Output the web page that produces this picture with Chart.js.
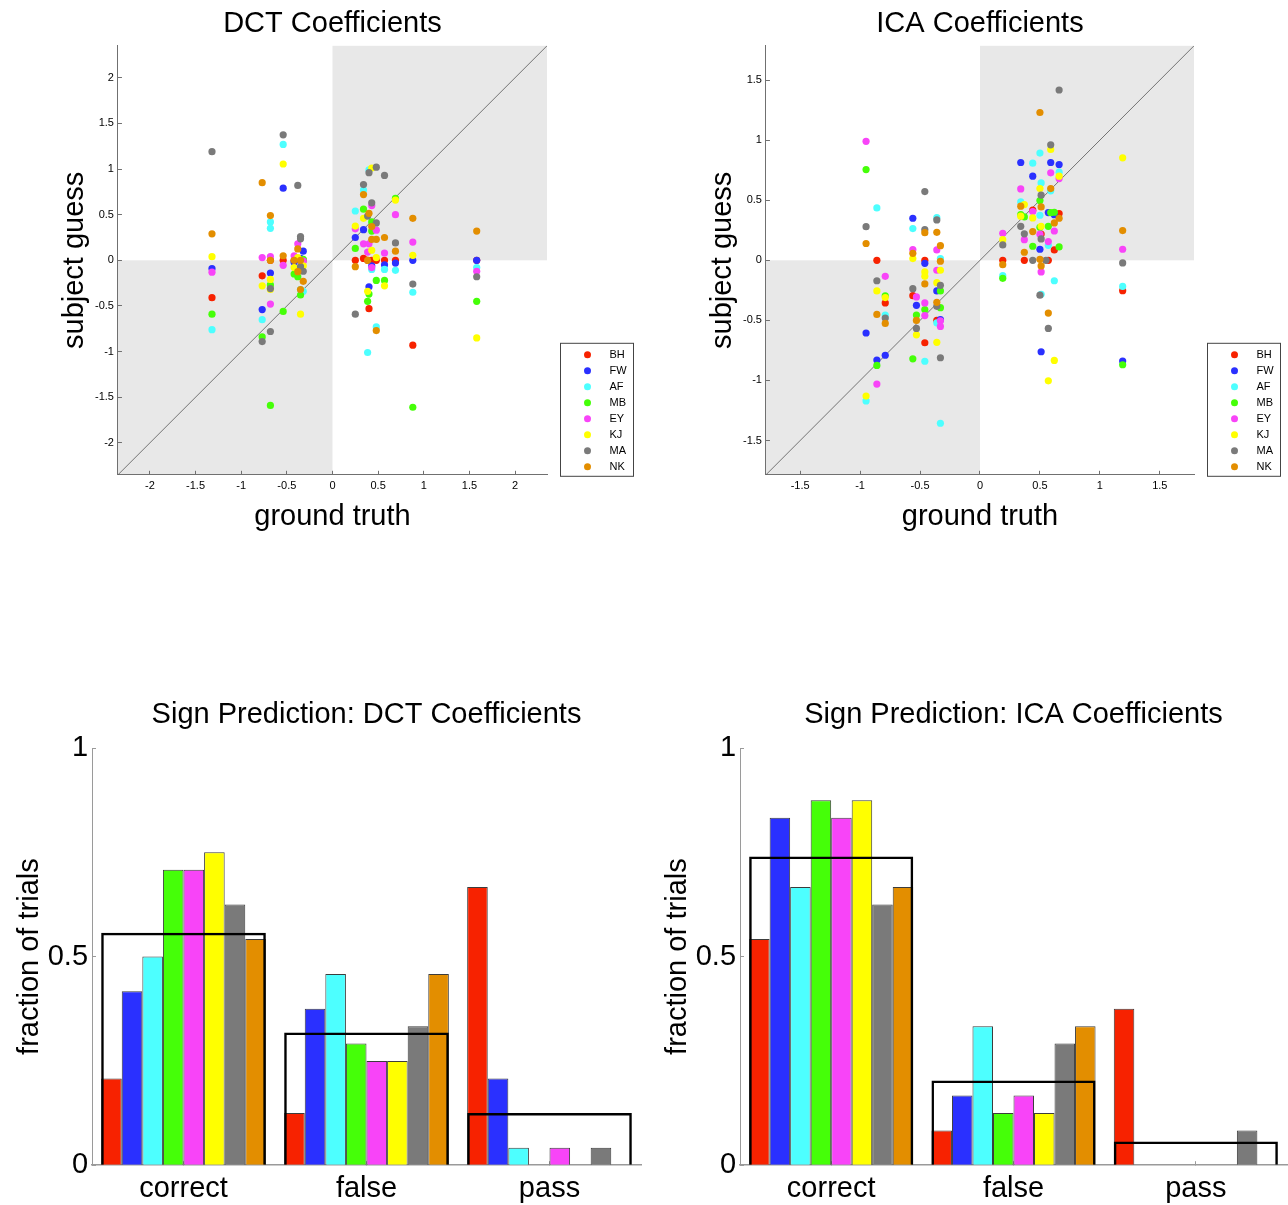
<!DOCTYPE html>
<html>
<head>
<meta charset="utf-8">
<script src="https://cdn.jsdelivr.net/npm/chart.js@4.4.1/dist/chart.umd.min.js"></script>
<style>
  html, body { margin: 0; padding: 0; background: #fff; overflow: hidden; }
  canvas { position: absolute; }
</style>
</head>
<body>
<canvas id="dctScatter" width="644" height="560" style="left:0;top:0"></canvas>
<canvas id="icaScatter" width="640" height="560" style="left:648px;top:0"></canvas>
<canvas id="dctBar" width="648" height="526" style="left:0;top:690px"></canvas>
<canvas id="icaBar" width="640" height="526" style="left:648px;top:690px"></canvas>
<script>
// subjects and colours
var subjects = ['BH', 'FW', 'AF', 'MB', 'EY', 'KJ', 'MA', 'NK'];
var colors = ['#f72200', '#2a30ff', '#4dffff', '#45ff08', '#f844f8', '#ffff00', '#7a7a7a', '#e38e00'];
var groups = ['correct', 'false', 'pass'];

// DCT scatter: [ground truth, subject guess]
var dctBH = [[-1.32,-0.41],[-0.77,-0.17],[-0.68,0],[-0.54,0],[-0.42,0],[-0.35,0],[-0.32,0],[0.25,0],[0.34,0.02],[0.385,0],[0.40,-0.53],[0.43,0],[0.48,0],[0.57,0],[0.69,0],[0.88,-0.93],[1.58,0]];
var dctFW = [[-1.32,-0.09],[-0.77,-0.54],[-0.68,-0.14],[-0.54,0.79],[-0.42,-0.02],[-0.35,0.02],[-0.32,0.10],[0.25,0.25],[0.34,0.335],[0.40,-0.29],[0.43,-0.06],[0.57,-0.05],[0.69,-0.03],[0.88,0],[1.58,0]];
var dctAF = [[-1.32,-0.76],[-0.77,-0.65],[-0.68,0.42],[-0.68,0.35],[-0.54,1.27],[-0.35,-0.32],[-0.32,-0.34],[0.25,0.54],[0.34,0.77],[0.385,-1.01],[0.40,0.99],[0.43,-0.10],[0.48,-0.73],[0.57,-0.10],[0.69,-0.11],[0.88,-0.35],[1.58,-0.08]];
var dctMB = [[-1.32,-0.59],[-0.77,-0.84],[-0.68,-0.27],[-0.68,-1.59],[-0.54,-0.56],[-0.42,-0.15],[-0.38,-0.18],[-0.35,-0.38],[-0.32,0.01],[0.25,0.13],[0.34,0.56],[0.385,-0.45],[0.40,-0.37],[0.43,0.42],[0.43,0.32],[0.48,-0.22],[0.57,-0.22],[0.69,0.68],[0.88,-1.61],[1.58,-0.45]];
var dctEY = [[-1.32,-0.13],[-0.77,0.03],[-0.68,0.04],[-0.68,-0.48],[-0.54,-0.055],[-0.42,0.05],[-0.38,0.18],[-0.32,-0.01],[0.25,0.345],[0.34,0.18],[0.385,0.09],[0.40,0.18],[0.43,0.60],[0.43,-0.08],[0.48,0.33],[0.57,0.08],[0.69,0.50],[0.88,0.20],[1.58,-0.12]];
var dctKJ = [[-1.32,0.04],[-0.77,-0.28],[-0.68,-0.21],[-0.68,-0.32],[-0.54,1.055],[-0.42,-0.08],[-0.38,0.03],[-0.35,-0.59],[-0.32,-0.06],[0.25,0.375],[0.34,0.46],[0.385,-0.34],[0.43,1.01],[0.43,0.11],[0.48,0.03],[0.57,-0.28],[0.69,0.66],[0.88,0.055],[1.58,-0.85]];
var dctMA = [[-1.32,1.19],[-0.77,-0.89],[-0.68,-0.31],[-0.68,-0.78],[-0.54,1.375],[-0.38,0.82],[-0.35,0.26],[-0.35,0.235],[-0.35,-0.07],[-0.32,-0.12],[0.25,-0.59],[0.34,0.83],[0.385,0.485],[0.40,0.96],[0.43,0.63],[0.48,1.02],[0.48,0.41],[0.57,0.93],[0.69,0.19],[0.88,-0.26],[1.58,-0.18]];
var dctNK = [[-1.32,0.29],[-0.77,0.85],[-0.68,0.49],[-0.68,0],[-0.54,0.05],[-0.42,0],[-0.38,0.125],[-0.38,-0.125],[-0.35,0],[-0.35,-0.32],[-0.32,-0.23],[0.25,-0.07],[0.34,0.72],[0.385,0],[0.40,0.515],[0.43,0.37],[0.43,0.23],[0.48,0.23],[0.48,-0.77],[0.57,0.25],[0.69,0.10],[0.88,0.46],[1.58,0.32]];

// ICA scatter
var icaBH = [[-0.86,0],[-0.79,-0.355],[-0.56,-0.294],[-0.46,0],[-0.46,-0.686],[-0.36,-0.5],[0.19,0],[0.37,0],[0.44,0.417],[0.51,0.219],[0.57,0],[0.62,0.086],[0.66,0.389],[1.19,-0.253]];
var icaFW = [[-0.95,-0.605],[-0.86,-0.83],[-0.79,-0.79],[-0.56,0.35],[-0.53,-0.375],[-0.46,-0.025],[-0.36,-0.255],[-0.33,-0.494],[0.34,0.814],[0.44,0.70],[0.50,0.092],[0.51,-0.761],[0.57,0.397],[0.59,0.814],[0.62,0.38],[0.66,0.797],[1.19,-0.839]];
var icaAF = [[-0.95,-1.17],[-0.86,0.436],[-0.79,-0.455],[-0.56,0.264],[-0.46,-0.84],[-0.36,0.355],[-0.36,-0.52],[-0.33,0.014],[-0.33,-1.356],[0.19,-0.128],[0.34,0.486],[0.44,0.808],[0.50,0.892],[0.50,0.375],[0.51,0.644],[0.51,-0.283],[0.57,0.125],[0.59,0.578],[0.62,-0.17],[0.66,0.733],[1.19,-0.217]];
var icaMB = [[-0.95,0.755],[-0.86,-0.875],[-0.79,-0.295],[-0.56,-0.82],[-0.53,-0.455],[-0.46,-0.41],[-0.33,-0.255],[-0.33,-0.394],[0.19,-0.15],[0.34,0.38],[0.37,0.361],[0.44,0.117],[0.50,0.497],[0.50,0.275],[0.57,0.283],[0.59,0.397],[0.62,0.40],[0.66,0.111],[1.19,-0.869]];
var icaEY = [[-0.95,0.99],[-0.86,-1.03],[-0.79,-0.133],[-0.56,0.089],[-0.53,-0.305],[-0.46,-0.355],[-0.46,-0.46],[-0.36,0.086],[-0.36,-0.083],[-0.33,-0.503],[-0.33,-0.55],[0.19,0.225],[0.34,0.594],[0.37,0.172],[0.44,0.406],[0.50,0.217],[0.51,-0.097],[0.57,0.156],[0.59,0.728],[0.62,0.244],[0.66,0.68],[1.19,0.092]];
var icaKJ = [[-0.95,-1.13],[-0.86,-0.255],[-0.79,-0.31],[-0.56,0.014],[-0.53,-0.62],[-0.46,-0.097],[-0.46,-0.133],[-0.36,-0.186],[-0.36,-0.683],[-0.33,-0.083],[0.19,0.172],[0.34,0.367],[0.37,0.464],[0.44,0.353],[0.50,0.597],[0.51,0.283],[0.57,-1.003],[0.59,0.922],[0.62,-0.833],[0.66,0.70],[1.19,0.853]];
var icaMA = [[-0.95,0.28],[-0.86,-0.17],[-0.79,-0.48],[-0.56,-0.236],[-0.53,-0.567],[-0.46,0.572],[-0.46,0.256],[-0.36,0.336],[-0.36,-0.383],[-0.33,-0.208],[-0.33,-0.811],[0.19,0.128],[0.34,0.283],[0.37,0.22],[0.44,0],[0.50,-0.29],[0.51,0.542],[0.51,0.178],[0.55,0],[0.57,-0.567],[0.59,0.961],[0.66,1.417],[1.19,-0.022]];
var icaNK = [[-0.95,0.14],[-0.86,-0.45],[-0.79,-0.525],[-0.56,0.058],[-0.53,-0.50],[-0.46,0.23],[-0.46,-0.197],[-0.36,0.233],[-0.36,-0.35],[-0.33,0.122],[-0.33,-0.008],[0.19,-0.036],[0.34,0.45],[0.37,0.067],[0.44,0.239],[0.50,1.23],[0.50,0.008],[0.51,0.444],[0.51,-0.047],[0.57,-0.439],[0.59,0.597],[0.62,0.311],[0.66,0.35],[1.19,0.247]];

// sign prediction fractions, one value per subject
var dctCorrect = [0.208, 0.417, 0.5, 0.708, 0.708, 0.75, 0.625, 0.542];
var dctFalse   = [0.125, 0.375, 0.458, 0.292, 0.25, 0.25, 0.333, 0.458];
var dctPass    = [0.667, 0.208, 0.042, 0, 0.042, 0, 0.042, 0];
var dctMean    = [0.557, 0.318, 0.125];
var icaCorrect = [0.542, 0.833, 0.667, 0.875, 0.833, 0.875, 0.625, 0.667];
var icaFalse   = [0.083, 0.167, 0.333, 0.125, 0.167, 0.125, 0.292, 0.333];
var icaPass    = [0.375, 0, 0, 0, 0, 0, 0.083, 0];
var icaMean    = [0.740, 0.203, 0.057];

var dctLim = 2.35;
var icaLim = 1.785;

Chart.defaults.font.family = '"Liberation Sans", Arial, Helvetica, sans-serif';
Chart.defaults.color = '#000';
var axisGray = '#707070';

function fmt(v) { return String(Math.round(v * 10) / 10); }

// shaded quadrants where the guessed sign is right
var quadrants = {
  id: 'quadrants',
  beforeDraw: function(chart) {
    var c = chart.ctx, a = chart.chartArea;
    var x0 = chart.scales.x.getPixelForValue(0);
    var y0 = chart.scales.y.getPixelForValue(0);
    c.save();
    c.fillStyle = '#e8e8e8';
    c.fillRect(x0, a.top, a.right - x0, y0 - a.top);
    c.fillRect(a.left, y0, x0 - a.left, a.bottom - y0);
    c.restore();
  }
};

// boxed legend at the lower right, like the matlab one
var boxLegend = {
  id: 'boxLegend',
  afterDraw: function(chart) {
    var c = chart.ctx, a = chart.chartArea;
    var left = a.right + 13.5, top = a.bottom - 131.5;
    c.save();
    c.strokeStyle = '#444';
    c.lineWidth = 1;
    c.strokeRect(left, top, 73, 133);
    c.font = '11px "Liberation Sans", Arial, sans-serif';
    c.textBaseline = 'middle';
    c.fillStyle = '#000';
    var ds = chart.data.datasets.filter(function(d) { return d.subject; });
    ds.forEach(function(d, i) {
      var y = top + 11.5 + 16 * i;
      c.fillStyle = d.backgroundColor;
      c.beginPath();
      c.arc(left + 27, y, 3.5, 0, Math.PI * 2);
      c.fill();
      c.fillStyle = '#000';
      c.fillText(d.label, left + 49, y + 0.5);
    });
    c.restore();
  }
};

function scatterChart(id, title, lim, lists, padRight) {
  var datasets = lists.map(function(list, i) {
    return {
      label: subjects[i],
      subject: true,
      data: list.map(function(p) { return {x: p[0], y: p[1]}; }),
      backgroundColor: colors[i],
      borderWidth: 0,
      pointRadius: 3.6,
      order: 8 - i
    };
  });
  datasets.push({
    type: 'line',
    data: [{x: -lim, y: -lim}, {x: lim, y: lim}],
    borderColor: '#555',
    borderWidth: 0.8,
    pointRadius: 0,
    order: 20
  });
  var axis = function(text, pad, tpad) {
    return {
      type: 'linear', min: -lim, max: lim,
      border: {color: axisGray},
      grid: {drawOnChartArea: false, tickLength: -4, color: axisGray},
      ticks: {stepSize: 0.5, includeBounds: false, font: {size: 11}, padding: pad, callback: fmt},
      title: {display: true, text: text, font: {size: 29, lineHeight: 1}, padding: tpad}
    };
  };
  return new Chart(document.getElementById(id), {
    type: 'scatter',
    data: {datasets: datasets},
    options: {
      responsive: false, animation: false, events: [],
      layout: {padding: {left: 58, right: padRight, top: 0, bottom: 29}},
      plugins: {
        legend: {display: false},
        tooltip: {enabled: false},
        title: {display: true, text: title, fullSize: false, font: {size: 29, weight: 'normal', lineHeight: 1.2}, padding: {top: 7, bottom: 4}}
      },
      scales: {
        x: axis('ground truth', 9, {top: 0, bottom: 0}),
        y: axis('subject guess', 8, {top: 2, bottom: -2})
      }
    },
    plugins: [quadrants, boxLegend]
  });
}

function barChart(id, title, correct, wrong, pass, mean, padRight) {
  var datasets = subjects.map(function(s, i) {
    return {
      label: s,
      data: [correct[i], wrong[i], pass[i]],
      backgroundColor: colors[i],
      borderColor: '#3c3c3c',
      borderWidth: 1,
      categoryPercentage: 0.9,
      barPercentage: 1
    };
  });
  datasets.push({
    label: 'mean',
    data: mean,
    grouped: false,
    backgroundColor: 'rgba(0,0,0,0)',
    borderColor: '#000',
    borderWidth: 2.5,
    categoryPercentage: 0.9,
    barPercentage: 1,
    order: -1
  });
  return new Chart(document.getElementById(id), {
    type: 'bar',
    data: {labels: groups, datasets: datasets},
    options: {
      responsive: false, animation: false, events: [],
      layout: {padding: {left: 8.7, right: padRight, top: 0, bottom: 0}},
      plugins: {
        legend: {display: false},
        tooltip: {enabled: false},
        title: {display: true, text: title, fullSize: false, font: {size: 29, weight: 'normal', lineHeight: 1.2}, padding: {top: 7.6, bottom: 15.6}}
      },
      scales: {
        x: {
          offset: true,
          border: {color: '#9a9a9a', width: 1.5},
          grid: {offset: false, drawOnChartArea: false, tickLength: -4, color: '#9a9a9a'},
          ticks: {font: {size: 29}, padding: 10}
        },
        y: {
          min: 0, max: 1,
          border: {color: '#9a9a9a'},
          grid: {drawOnChartArea: false, tickLength: -4, color: '#9a9a9a'},
          ticks: {stepSize: 0.5, font: {size: 29}, padding: 8, callback: fmt},
          title: {display: true, text: 'fraction of trials', font: {size: 29, lineHeight: 1}, padding: {top: 7, bottom: -5}}
        }
      }
    }
  });
}

scatterChart('dctScatter', 'DCT Coefficients', dctLim, [dctBH, dctFW, dctAF, dctMB, dctEY, dctKJ, dctMA, dctNK], 97);
scatterChart('icaScatter', 'ICA Coefficients', icaLim, [icaBH, icaFW, icaAF, icaMB, icaEY, icaKJ, icaMA, icaNK], 94);
barChart('dctBar', 'Sign Prediction: DCT Coefficients', dctCorrect, dctFalse, dctPass, dctMean, 7);
barChart('icaBar', 'Sign Prediction: ICA Coefficients', icaCorrect, icaFalse, icaPass, icaMean, 1);
</script>
</body>
</html>
